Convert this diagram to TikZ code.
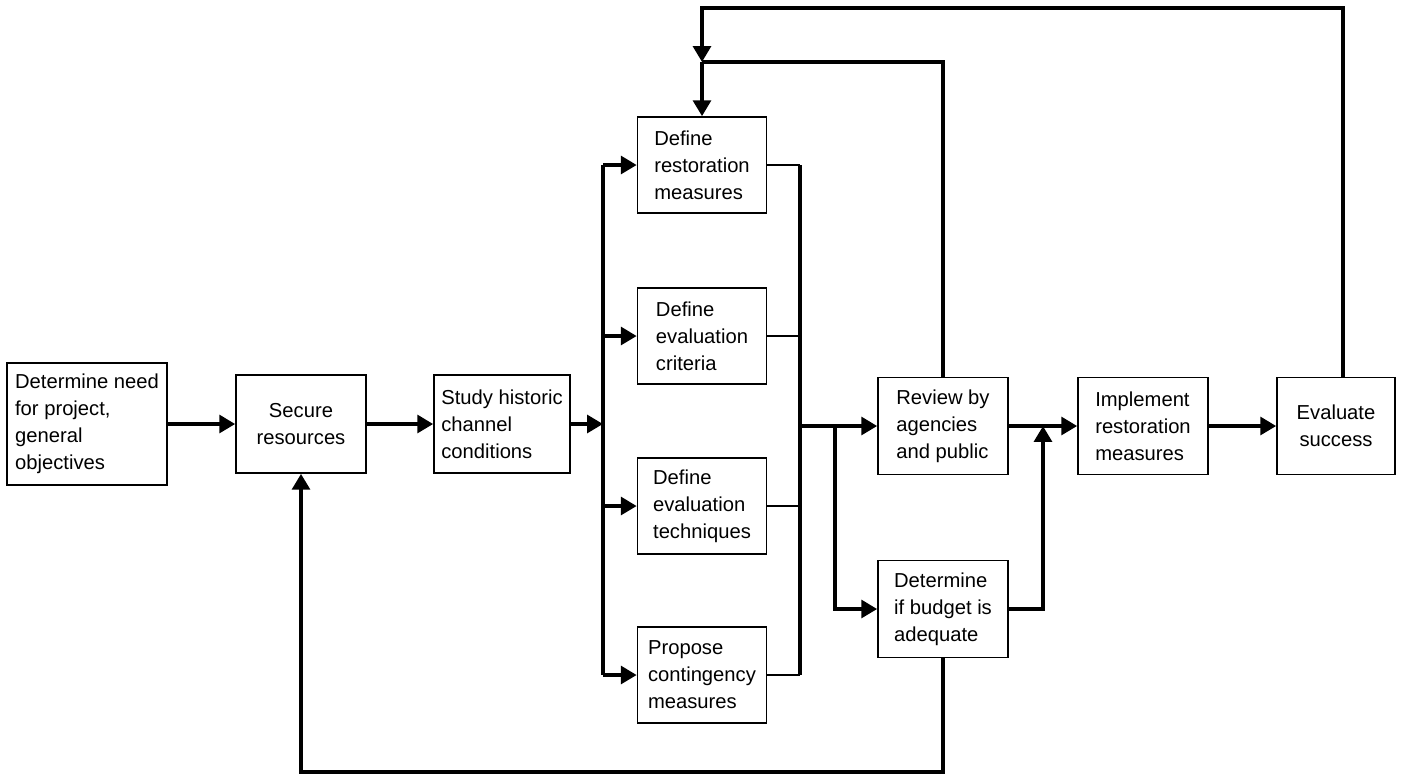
\documentclass[tikz,border=0pt]{standalone}
\usepackage{fontspec}
\setmainfont{Liberation Sans}
\usepackage{tikz}
\usetikzlibrary{arrows.meta, positioning}

\begin{document}
\begin{tikzpicture}[
    x=0.02cm, y=-0.02cm,
    box/.style={rectangle, draw=black, line width=0.9pt, align=left, inner sep=2pt,
                font=\fontsize{11.5}{15.3}\selectfont},
    mid/.style={box, minimum width=2.58cm, minimum height=1.92cm},
    wide/.style={box, minimum width=2.6cm, minimum height=1.94cm},
    arrow/.style={line width=2.2pt, -{Triangle[length=9pt,width=10pt]}},
    line/.style={line width=2.2pt},
    thinline/.style={line width=1.5pt}
]
    \useasboundingbox (0,0) rectangle (1406,775);

    % main row
    \node (need) [box, minimum width=3.2cm, minimum height=2.44cm] at (87,424) {Determine need\\for project,\\general\\objectives};
    \node (secure) [box, align=center, minimum width=2.6cm, minimum height=1.96cm] at (301,424) {Secure\\resources};
    \node (study) [box, minimum width=2.72cm, minimum height=1.96cm] at (502,424) {Study historic\\channel\\conditions};

    % parallel column
    \node (restore) [mid] at (702,165) {Define\\restoration\\measures};
    \node (criteria) [mid] at (702,336) {Define\\evaluation\\criteria};
    \node (techniques) [mid] at (702,506) {Define\\evaluation\\techniques};
    \node (contingency) [mid] at (702,675) {Propose\\contingency\\measures};

    \node (review) [wide] at (943,426) {Review by\\agencies\\and public};
    \node (budget) [wide] at (943,609) {Determine\\if budget is\\adequate};
    \node (implement) [wide] at (1143,426) {Implement\\restoration\\measures};
    \node (evaluate) [box, align=center, minimum width=2.36cm, minimum height=1.94cm] at (1336,426) {Evaluate\\success};

    % junction points
    \coordinate (split) at (603,424);
    \coordinate (merge) at (800,426);
    \coordinate (fork) at (835,426);
    \coordinate (join) at (1043,426);
    \coordinate (topjoin) at (702,62);
    \coordinate (topleft) at (702,8);
    \coordinate (bottom) at (0,772);

    \draw [arrow] (need) -- (secure);
    \draw [arrow] (secure) -- (study);
    \draw [arrow] (study) -- (split);

    % fan out and back in
    \draw [line] (restore.west -| split) -- (contingency.west -| split);
    \draw [line] (restore.east -| merge) -- (contingency.east -| merge);
    \foreach \n in {restore,criteria,techniques,contingency} {
        \draw [arrow] (\n.west -| split) -- (\n);
        \draw [thinline] (\n.east) -- (\n.east -| merge);
    }

    \draw [arrow] (merge) -- (review);
    \draw [arrow] (fork) |- (budget);
    \draw [arrow] (review) -- (implement);
    \draw [arrow] (budget) -| (join);
    \draw [arrow] (implement) -- (evaluate);

    % feedback loops
    \draw [line] (review) |- (topjoin);
    \draw [arrow] (topjoin) -- (restore);
    \draw [arrow] ([xshift=4pt]evaluate.north) |- (topleft) -- (topjoin);
    \draw [arrow] (budget) -- (budget |- bottom) -| (secure);
\end{tikzpicture}
\end{document}
